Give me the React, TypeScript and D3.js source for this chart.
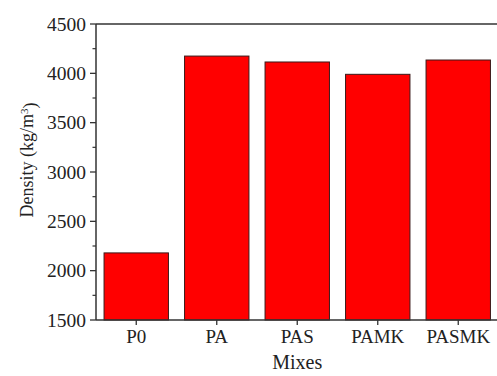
import React from "react";
import * as d3 from "d3";

const mixes = ["P0", "PA", "PAS", "PAMK", "PASMK"];
const density = [2180, 4175, 4115, 3990, 4135];
const yMajorTicks = [1500, 2000, 2500, 3000, 3500, 4000, 4500];
const yMinorTicks = [1750, 2250, 2750, 3250, 3750, 4250];

const W = 497;
const H = 376;
const left = 96;
const top = 24;
const bottom = 320;
const right = 498.5;
const font = "'Liberation Serif', 'Times New Roman', serif";
const axisColor = "#333";

export default function App() {
  const x = d3
    .scaleBand<string>()
    .domain(mixes)
    .range([left, right])
    .paddingInner(0.2)
    .paddingOuter(0.1);
  const y = d3.scaleLinear().domain([1500, 4500]).range([bottom, top]);

  return (
    <svg
      width={W}
      height={H}
      style={{ position: "absolute", left: 0, top: 0, background: "#fff" }}
      fontFamily={font}
    >
      {/* bars */}
      {mixes.map((m, i) => (
        <rect
          key={m}
          x={x(m)}
          y={y(density[i])}
          width={x.bandwidth()}
          height={y(1500) - y(density[i])}
          fill="#ff0000"
          stroke="#3a1a1a"
          strokeWidth={1}
        />
      ))}

      {/* frame lines */}
      <line x1={left} x2={W} y1={top} y2={top} stroke={axisColor} strokeWidth={1.5} />
      <line x1={left} x2={left} y1={top} y2={bottom} stroke={axisColor} strokeWidth={1.5} />
      <line x1={left} x2={W} y1={bottom} y2={bottom} stroke={axisColor} strokeWidth={1.5} />

      {/* y ticks */}
      {yMajorTicks.map((t) => (
        <g key={t}>
          <line x1={left - 6} x2={left} y1={y(t)} y2={y(t)} stroke={axisColor} strokeWidth={1.3} />
          <text
            x={left - 10}
            y={y(t)}
            dy="0.34em"
            textAnchor="end"
            fontSize={19.5}
            fill="#222"
          >
            {t}
          </text>
        </g>
      ))}
      {yMinorTicks.map((t) => (
        <line key={t} x1={left - 3.5} x2={left} y1={y(t)} y2={y(t)} stroke={axisColor} strokeWidth={1.2} />
      ))}

      {/* x ticks */}
      {mixes.map((m) => {
        const cx = (x(m) ?? 0) + x.bandwidth() / 2;
        return (
          <g key={m}>
            <line x1={cx} x2={cx} y1={bottom} y2={bottom + 5} stroke={axisColor} strokeWidth={1.3} />
            <text x={cx} y={343} textAnchor="middle" fontSize={19} fill="#222">
              {m}
            </text>
          </g>
        );
      })}

      {/* axis titles */}
      <text x={(left + right) / 2} y={369} textAnchor="middle" fontSize={20} fill="#222">
        Mixes
      </text>
      <text
        transform={`translate(33, ${(top + bottom) / 2 - 12}) rotate(-90)`}
        textAnchor="middle"
        fontSize={18}
        fill="#222"
      >
        Density (kg/m<tspan dy="-0.45em" fontSize={11}>3</tspan>
        <tspan dy="0.45em">)</tspan>
      </text>
    </svg>
  );
}
